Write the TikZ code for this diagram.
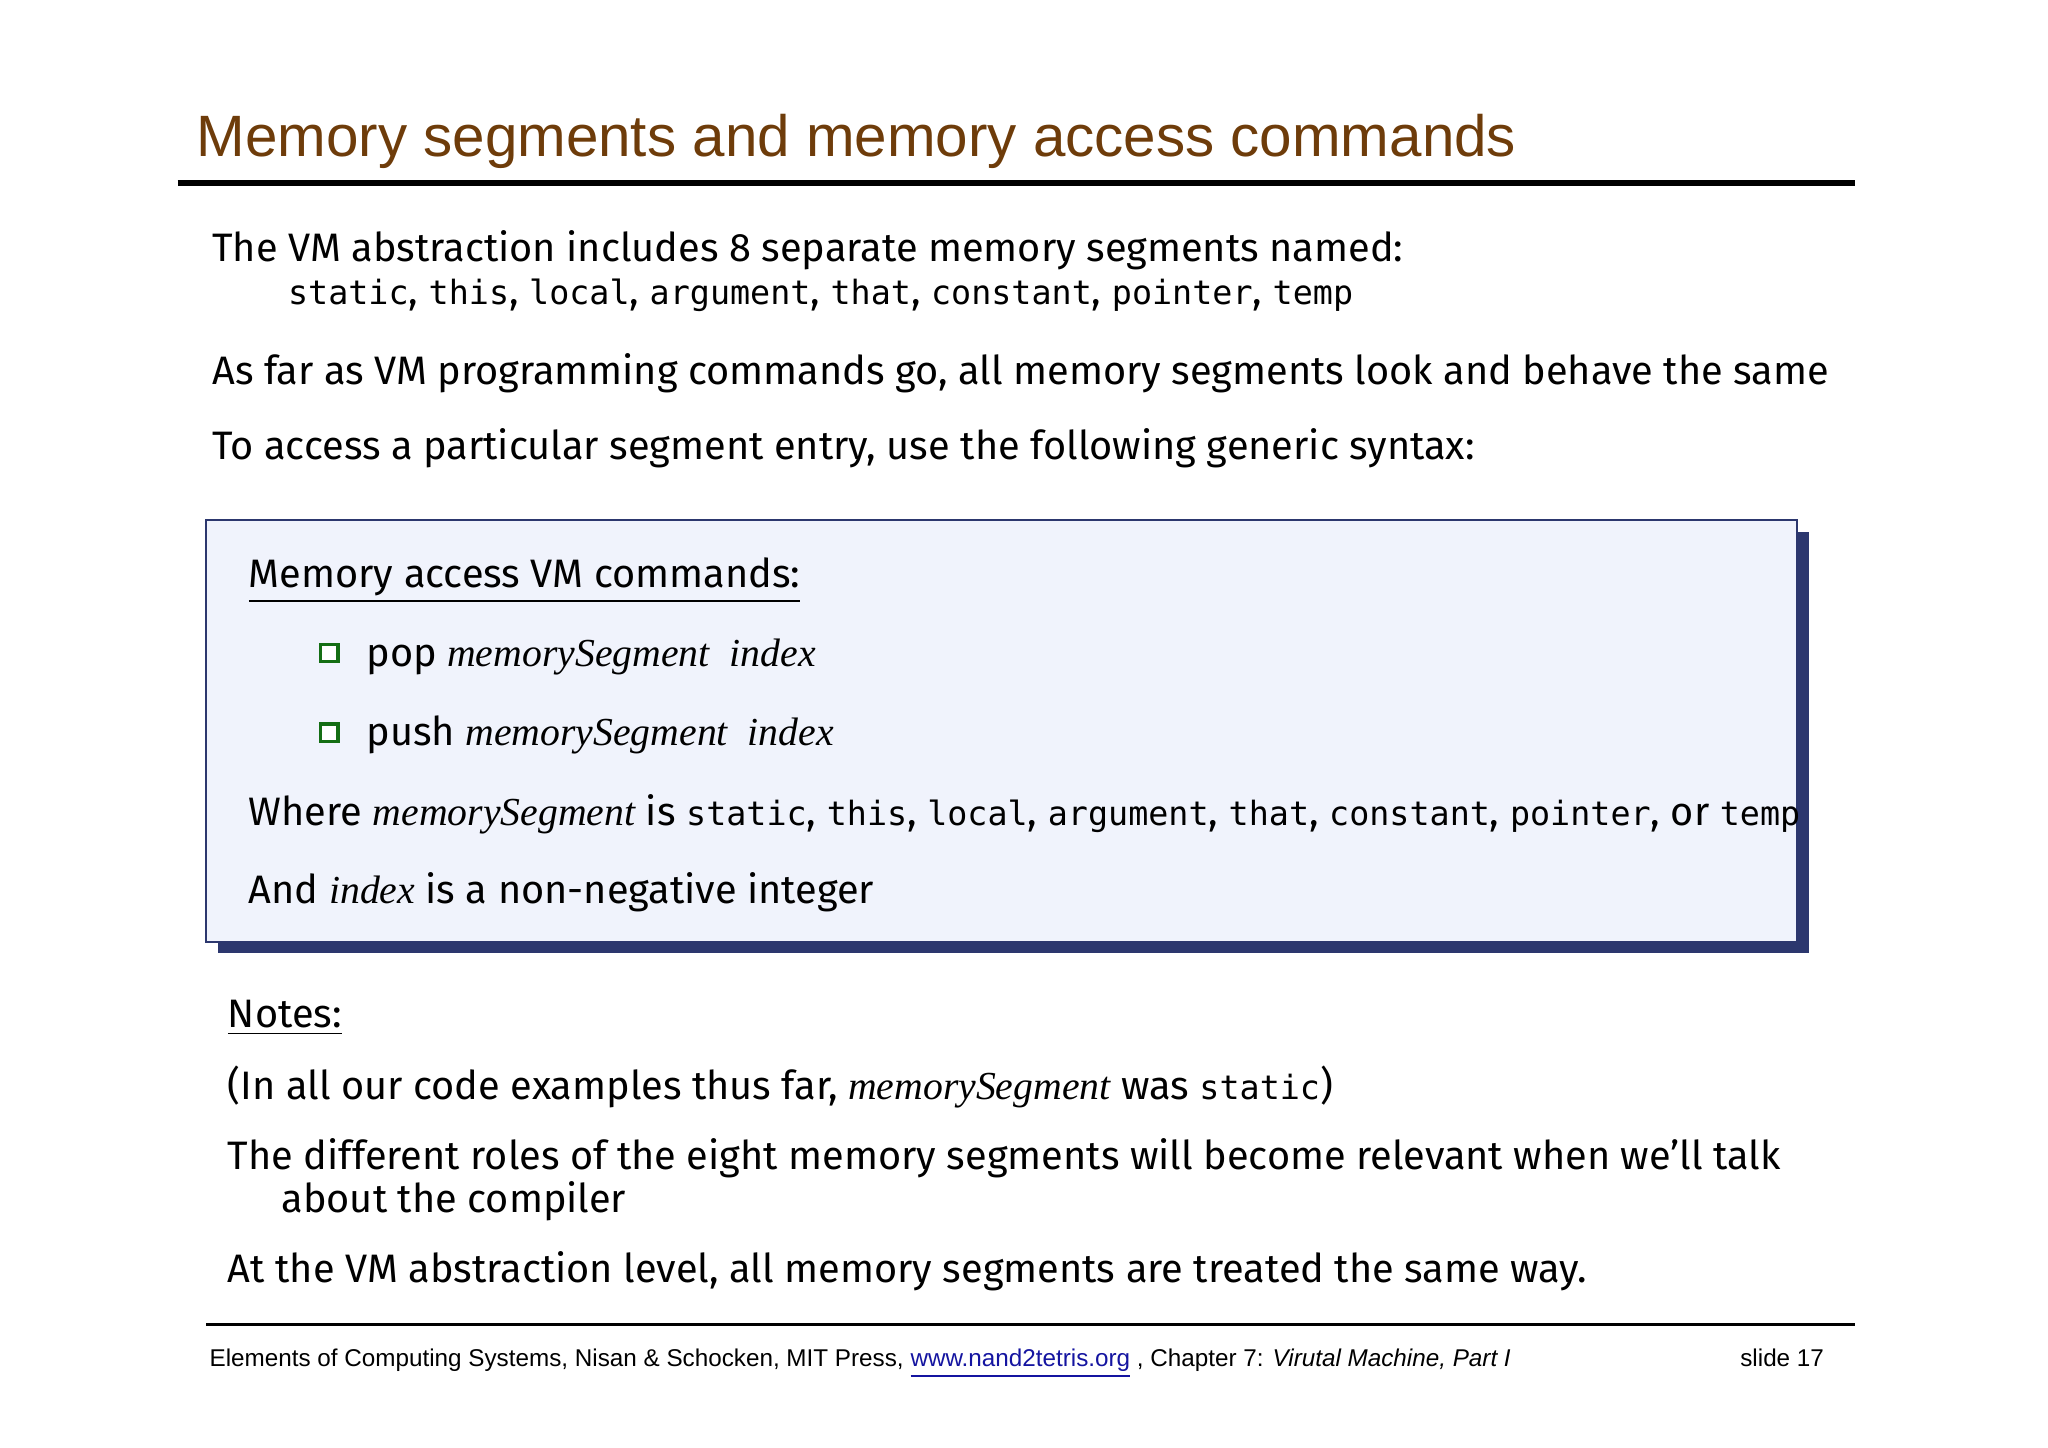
\documentclass[tikz,border=0pt]{standalone}
\usepackage{fontspec}
\setmainfont{Liberation Sans}
\newfontfamily\bodyf{Fira Sans}
\newfontfamily\monof{DejaVu Sans Mono}
\newfontfamily\itf{Liberation Serif}[ItalicFont=* Italic]
\definecolor{titlebrown}{RGB}{110,60,10}
\definecolor{boxnavy}{RGB}{44,55,110}
\definecolor{boxfill}{RGB}{240,243,252}
\definecolor{bulgreen}{RGB}{20,110,20}
\definecolor{linkblue}{RGB}{20,20,160}
\newcommand{\mt}[1]{{\monof\fontsize{9.5}{11}\selectfont #1}}
\newcommand{\vi}[1]{{\itf\itshape #1}}
\newcommand{\ulin}[1]{\underline{#1}}
\tikzset{
  txt/.style={anchor=base west,inner sep=0,font=\bodyf\fontsize{11.3}{13}\selectfont},
  bul/.style={draw=bulgreen,fill=white,line width=0.9pt,minimum size=5pt,inner sep=0}
}
\begin{document}
\begin{tikzpicture}[x=0.01306cm,y=-0.01306cm]
\useasboundingbox (0,0) rectangle (1568,1108);
\node (title) [anchor=base west,inner sep=0,text=titlebrown,font=\fontsize{16.6}{19}\selectfont] at (150,120) {Memory segments and memory access commands};
\draw[line width=1.6pt] (136,140) -- (1420,140);

\node (l1) [txt] at (162,200) {The VM abstraction includes 8 separate memory segments named:};
\node (l1b) [txt] at (220,233) {\mt{static}, \mt{this}, \mt{local}, \mt{argument}, \mt{that}, \mt{constant}, \mt{pointer}, \mt{temp}};
\node (l2) [txt] at (162,294) {As far as VM programming commands go, all memory segments look and behave the same};
\node (l3) [txt] at (162,352) {To access a particular segment entry, use the following generic syntax:};

\fill[boxnavy] (167,407) rectangle (1385,730);
\draw[boxnavy,fill=boxfill,line width=0.6pt] (158,398) rectangle (1376,721);
\node (bh) [txt] at (190,450) {\ulin{Memory access VM commands:}};
\node (b1) [bul] at (252,500) {};
\node (p1) [txt] at (280,510) {pop \vi{memorySegment\ \ index}};
\node (b2) [bul] at (252,561) {};
\node (p2) [txt] at (280,571) {push \vi{memorySegment\ \ index}};
\node (w) [txt] at (190,632) {Where \vi{memorySegment} is \mt{static}, \mt{this}, \mt{local}, \mt{argument}, \mt{that}, \mt{constant}, \mt{pointer}, or \mt{temp}};
\node (a) [txt] at (190,692) {And \vi{index} is a non-negative integer};

\node (n0) [txt] at (174,787) {\ulin{Notes:}};
\node (n1) [txt] at (174,842) {(In all our code examples thus far, \vi{memorySegment} was \mt{static})};
\node (n2) [txt] at (174,895) {The different roles of the eight memory segments will become relevant when we’ll talk};
\node (n2b) [txt] at (215,928) {about the compiler};
\node (n3) [txt] at (174,982) {At the VM abstraction level, all memory segments are treated the same way.};

\draw[line width=0.8pt] (158,1014) -- (1420,1014);
\node (f) [anchor=base west,inner sep=0,font=\fontsize{6.9}{8}\selectfont] at (160,1046) {Elements of Computing Systems, Nisan \& Schocken, MIT Press, \textcolor{linkblue}{\ulin{www.nand2tetris.org}} , Chapter 7: \textit{Virutal Machine, Part I}};
\node (s) [anchor=base east,inner sep=0,font=\fontsize{6.9}{8}\selectfont] at (1397,1046) {slide 17};
\end{tikzpicture}
\end{document}
